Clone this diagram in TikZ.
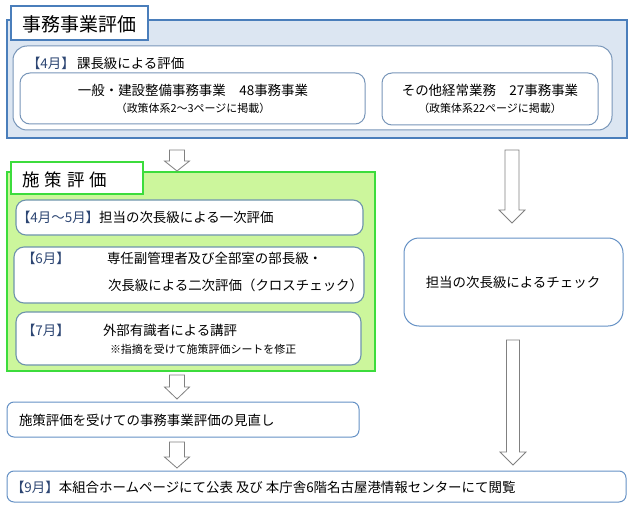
\documentclass[tikz,border=0pt]{standalone}
\usepackage{fontspec}
\setmainfont{Noto Sans CJK JP}
\usetikzlibrary{calc}
\definecolor{bluefill}{RGB}{220,230,242}
\definecolor{blueline}{RGB}{74,126,187}
\definecolor{softline}{RGB}{120,150,185}
\definecolor{greenfill}{RGB}{204,246,156}
\definecolor{greenline}{RGB}{60,220,60}
\definecolor{greyblue}{RGB}{110,148,172}
\definecolor{arrowline}{RGB}{128,128,128}
\definecolor{monthc}{RGB}{45,70,115}
\newcommand\blockarr[5]{%
  \draw[barrow] let \p1=#1, \p2=#2 in
    (\x1-#3bp,\y1) -- (\x1+#3bp,\y1) -- (\x1+#3bp,\y2+#5bp) -- (\x1+#4bp,\y2+#5bp)
    -- (\x1,\y2) -- (\x1-#4bp,\y2+#5bp) -- (\x1-#3bp,\y2+#5bp) -- cycle;}
\begin{document}
\begin{tikzpicture}[x=1bp,y=-1bp,
  frame/.style={anchor=north west,inner sep=0pt,outer sep=0pt},
  bluebox/.style={frame,draw=blueline,fill=bluefill,line width=1.8bp},
  bluetab/.style={frame,draw=blueline,fill=white,line width=1.5bp},
  whitebox/.style={frame,draw=softline,fill=white,line width=1bp,rounded corners=14bp},
  subbox/.style={frame,draw=softline,fill=white,line width=1bp,rounded corners=10bp},
  greenbox/.style={frame,draw=greenline,fill=greenfill,line width=2bp},
  greentab/.style={frame,draw=greenline,fill=white,line width=2bp},
  gbox/.style={frame,draw=greyblue,fill=white,line width=1.1bp,rounded corners=10bp},
  checkbox/.style={frame,draw=blueline!85,fill=white,line width=1bp,rounded corners=15bp},
  flatbox/.style={frame,draw=blueline!85,fill=white,line width=1bp,rounded corners=7bp},
  txt/.style={inner sep=0pt,outer sep=0pt,font=\fontsize{13.5}{16}\selectfont},
  ltxt/.style={txt,anchor=west},
  small/.style={inner sep=0pt,outer sep=0pt,font=\fontsize{11}{13}\selectfont},
  mid/.style={inner sep=0pt,outer sep=0pt,anchor=west,font=\fontsize{11}{13}\selectfont},
  barrow/.style={draw=arrowline,fill=white,line width=0.8bp,line join=miter}]
\useasboundingbox (0,0) rectangle (635,516);
\coordinate (cl) at (177,0);
\coordinate (cr1) at (512,0);
\coordinate (cr2) at (513,0);

% ---- 事務事業評価 ----
\node[bluebox,minimum width=620bp,minimum height=118bp] (jimu) at (7,20) {};
\node[bluetab,minimum width=137bp,minimum height=34bp] (jimuT) at (11,6) {};
\node[inner sep=0pt,font=\fontsize{19}{22}\selectfont] (jimuTt) at (79.5,24) {事務事業評価};
\node[whitebox,minimum width=599bp,minimum height=84bp] (kacho) at (13,46) {};
\node[ltxt] (kachoL) at (27,63) {\textcolor{monthc}{【4月】}\,課長級による評価};
\node[subbox,minimum width=345bp,minimum height=51bp] (ippan) at (20,73) {};
\node[txt] (ippan1) at (193,90) {一般・建設整備事務事業　48事務事業};
\node[small] (ippan2) at (193,108) {（政策体系2～3ページに掲載）};
\node[subbox,minimum width=216bp,minimum height=52bp] (keijo) at (382,73) {};
\node[txt] (keijo1) at (490,90) {その他経常業務　27事務事業};
\node[small] (keijo2) at (490,108) {（政策体系22ページに掲載）};

% ---- 施策評価 ----
\node[greenbox,minimum width=368bp,minimum height=199bp] (shisaku) at (7,172) {};
\node[greentab,minimum width=132bp,minimum height=32bp] (shisakuT) at (11,162) {};
\node[inner sep=0pt,anchor=west,font=\fontsize{17.5}{20}\selectfont] (shisakuTt) at (22,180) {施\hspace{5bp}策\hspace{5bp}評\hspace{5bp}価};
\node[gbox,minimum width=347bp,minimum height=35bp] (boxA) at (16,200) {};
\node[ltxt] (boxAt) at (17,217) {\textcolor{monthc}{【4月～5月】}担当の次長級による一次評価};
\node[gbox,minimum width=350bp,minimum height=56bp] (boxB) at (14,247) {};
\node[ltxt] (boxBm) at (22,258) {\textcolor{monthc}{【6月】}};
\node[ltxt] (boxB1) at (107,258) {専任副管理者及び全部室の部長級・};
\node[ltxt] (boxB2) at (108,285) {次長級による二次評価（クロスチェック）};
\node[gbox,minimum width=345bp,minimum height=53bp] (boxC) at (16,312) {};
\node[ltxt] (boxCm) at (22,330) {\textcolor{monthc}{【7月】}};
\node[ltxt] (boxC1) at (103,330) {外部有識者による講評};
\node[mid] (boxC2) at (110,349) {※指摘を受けて施策評価シートを修正};

% ---- right column ----
\node[checkbox,minimum width=219bp,minimum height=88bp] (check) at (404,238) {};
\node[txt] (checkt) at (513,282) {担当の次長級によるチェック};

% ---- lower boxes ----
\node[flatbox,minimum width=352bp,minimum height=35bp] (minaoshi) at (7,402) {};
\node[ltxt] (minaoshit) at (19,420) {施策評価を受けての事務事業評価の見直し};
\node[flatbox,minimum width=619bp,minimum height=31bp] (kohyo) at (7,471) {};
\node[ltxt] (kohyot) at (11,487) {\textcolor{monthc}{【9月】}本組合ホームページにて公表 及び 本庁舎6階名古屋港情報センターにて閲覧};

% ---- block arrows ----
\blockarr{($(jimu.south -| cl)+(0,12)$)}{($(shisaku.north -| cl)+(0,-1)$)}{7.5}{12.5}{10}
\blockarr{($(shisaku.south -| cl)+(0,4)$)}{($(minaoshi.north -| cl)+(0,-3)$)}{7.5}{12.5}{12}
\blockarr{($(minaoshi.south -| cl)+(0,5)$)}{($(kohyo.north -| cl)+(0,-3)$)}{7.5}{12.5}{11}
\blockarr{($(jimu.south -| cr1)+(0,12)$)}{($(check.north -| cr1)+(0,-15)$)}{7}{13}{13}
\blockarr{($(check.south -| cr2)+(0,14)$)}{($(kohyo.north -| cr2)+(0,-6)$)}{6.5}{13}{13}
\end{tikzpicture}
\end{document}
